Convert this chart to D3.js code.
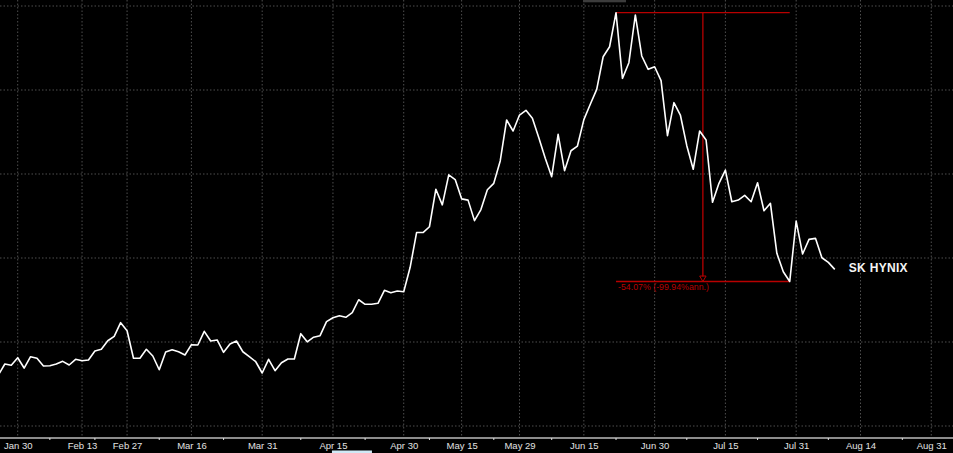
<!DOCTYPE html>
<html>
<head>
<meta charset="utf-8">
<script src="https://cdn.jsdelivr.net/npm/d3@7"></script>
<style>
  html, body { margin:0; padding:0; background:#000; overflow:hidden; }
  svg { display:block; }
</style>
</head>
<body>
<div id="chart"></div>
<script>
/* price series, one value per trading day, index 0 = Jan 30 */
var firstIndex = -3;
var prices = [
  160.7, 173.8, 172.3, 181.3, 169.0, 182.5, 180.6, 171.4, 171.8, 173.8,
  177.0, 172.6, 179.4, 177.7, 178.6, 189.3, 191.3, 201.5, 206.8, 223.0,
  213.4, 180.6, 180.6, 191.3, 183.3, 167.0, 188.1, 190.8, 188.4, 184.5,
  196.8, 196.4, 212.7, 201.2, 202.4, 187.7, 197.6, 201.2, 188.4, 182.5,
  176.5, 163.1, 179.4, 165.8, 175.3, 179.8, 179.8, 209.9, 200.2, 205.7,
  207.5, 224.2, 228.9, 231.3, 229.4, 234.9, 250.3, 244.9, 244.9, 246.1,
  261.5, 258.7, 260.7, 259.9, 288.9, 330.3, 330.3, 337.2, 381.9, 363.3,
  399.0, 393.4, 370.4, 368.9, 344.5, 357.7, 381.2, 388.9, 415.5, 464.3,
  451.2, 470.2, 475.8, 466.3, 443.2, 418.7, 396.8, 447.3, 403.9, 427.7,
  433.3, 464.7, 483.1, 500.8, 539.6, 551.5, 592.0, 513.9, 532.5, 589.3,
  540.5, 524.6, 527.7, 511.1, 445.6, 484.9, 470.2, 433.7, 405.6, 451.2,
  440.5, 366.3, 388.9, 404.7, 367.0, 369.0, 374.6, 367.0, 389.6, 356.3,
  365.1, 305.6, 283.7, 272.0, 344.0, 304.7, 322.2, 323.4, 300.3, 294.8,
  286.5
];

var tickLabels = ["Jan 30","Feb 13","Feb 27","Mar 16","Mar 31","Apr 15","Apr 30",
                  "May 15","May 29","Jun 15","Jun 30","Jul 15","Jul 31","Aug 14","Aug 31"];
var tickIndex  = [0, 10, 17, 27, 38, 49, 60, 69, 78, 88, 99, 110, 121, 131, 142];
var minorTickIndex = [5, 12, 22, 32, 44, 54, 64, 74, 83, 93, 104, 115, 126, 137.5];
var gridValues = [100, 200, 300, 400, 500, 600];

var seriesName = "SK HYNIX";
var peakIndex = 93, troughIndex = 120;
var drawdownLabel = "-54.07% (-99.94%ann.)";
var yearLabel = "2026", yearIndex = 78;
var cursorLabel = "04/15/26", cursorIndex = 49;

var width = 953, height = 453;
var axisY = 438;
var red = "#b80000";

var data = prices.map(function(v, i){
  return {i: firstIndex + i, v: v};
});

var x = d3.scaleLinear().domain([0, 131]).range([17.7, 860.5]);
var y = d3.scaleLinear().domain([100, 600]).range([426, 6]);

var svg = d3.select("#chart").append("svg")
  .attr("width", width).attr("height", height)
  .style("background", "#000");

svg.append("defs").append("clipPath").attr("id", "plotClip")
  .append("rect").attr("x", 0).attr("y", 0).attr("width", width).attr("height", axisY);

/* dotted grid */
svg.append("g").selectAll("line.h").data(gridValues).enter().append("line")
  .attr("x1", 0).attr("x2", width)
  .attr("y1", function(d){ return y(d); }).attr("y2", function(d){ return y(d); })
  .attr("stroke", "#4e4e4e").attr("stroke-width", 1).attr("stroke-dasharray", "1.5,2");

svg.append("g").selectAll("line.v").data(tickIndex).enter().append("line")
  .attr("x1", function(d){ return x(d); }).attr("x2", function(d){ return x(d); })
  .attr("y1", 0).attr("y2", axisY)
  .attr("stroke", "#4e4e4e").attr("stroke-width", 1).attr("stroke-dasharray", "1.5,2");

/* little grey tab at the top */
svg.append("rect").attr("x", 583).attr("y", 0).attr("width", 43).attr("height", 2.3)
  .attr("fill", "#3c3c3c");

/* bottom axis */
var xAxis = d3.axisBottom(x)
  .tickValues(tickIndex)
  .tickFormat(function(d, k){ return tickLabels[k]; })
  .tickSize(0).tickPadding(4);

var gx = svg.append("g").attr("transform", "translate(0," + axisY + ")").call(xAxis);
gx.select(".domain").remove();
gx.append("line").attr("x1", 0).attr("x2", width).attr("y1", 0).attr("y2", 0)
  .attr("stroke", "#8c8c8c").attr("stroke-width", 2);
gx.selectAll("text")
  .attr("fill", "#e2e2e2")
  .style("font-family", "'Liberation Sans', Arial, sans-serif")
  .style("font-size", "9.5px");

gx.selectAll("line.minor").data(minorTickIndex).enter().append("line")
  .attr("class", "minor")
  .attr("x1", function(d){ return x(d); }).attr("x2", function(d){ return x(d); })
  .attr("y1", 0).attr("y2", 2)
  .attr("stroke", "#dddddd").attr("stroke-width", 1);

/* cursor box and year, half hidden under the bottom edge like the original */
svg.append("rect").attr("x", x(cursorIndex) - 1).attr("y", 450.5)
  .attr("width", 40).attr("height", 8).attr("fill", "#cfe9f6");
svg.append("text").attr("x", x(cursorIndex) + 19).attr("y", 457.5)
  .attr("text-anchor", "middle").attr("fill", "#1a3550")
  .style("font-family", "'Liberation Sans', Arial, sans-serif").style("font-size", "8px")
  .text(cursorLabel);
svg.append("text").attr("x", x(yearIndex)).attr("y", 458.5)
  .attr("text-anchor", "middle").attr("fill", "#e2e2e2")
  .style("font-family", "'Liberation Sans', Arial, sans-serif").style("font-size", "9.5px")
  .text(yearLabel);

/* drawdown annotation */
var peak = data.filter(function(d){ return d.i === peakIndex; })[0];
var trough = data.filter(function(d){ return d.i === troughIndex; })[0];
var midIndex = (peakIndex + troughIndex) / 2;
var ann = svg.append("g").attr("stroke", red).attr("stroke-width", 1.3).attr("fill", "none");

ann.append("line").attr("x1", x(peakIndex)).attr("x2", x(troughIndex))
  .attr("y1", y(peak.v)).attr("y2", y(peak.v));
ann.append("line").attr("x1", x(peakIndex)).attr("x2", x(troughIndex))
  .attr("y1", y(trough.v)).attr("y2", y(trough.v));
ann.append("line").attr("x1", x(midIndex)).attr("x2", x(midIndex))
  .attr("y1", y(peak.v)).attr("y2", y(trough.v) - 5);
ann.append("path").attr("stroke-width", 1)
  .attr("d", "M" + (x(midIndex) - 3.2) + "," + (y(trough.v) - 5.5) +
             "L" + (x(midIndex) + 3.2) + "," + (y(trough.v) - 5.5) +
             "L" + x(midIndex) + "," + y(trough.v) + "Z");

svg.append("text")
  .attr("x", x(peakIndex) + 2).attr("y", y(trough.v) + 8.5)
  .attr("fill", red)
  .style("font-family", "'Liberation Sans', Arial, sans-serif")
  .style("font-size", "8.8px")
  .text(drawdownLabel);

/* price line */
var line = d3.line()
  .x(function(d){ return x(d.i); })
  .y(function(d){ return y(d.v); });

svg.append("path").datum(data)
  .attr("clip-path", "url(#plotClip)")
  .attr("d", line)
  .attr("fill", "none")
  .attr("stroke", "#ffffff")
  .attr("stroke-width", 1.6)
  .attr("stroke-linejoin", "round");

/* series label at end of line */
var last = data[data.length - 1];
svg.append("text")
  .attr("x", x(last.i) + 14).attr("y", y(last.v) + 2.5)
  .attr("fill", "#f4f4f4")
  .style("font-family", "'Liberation Sans', Arial, sans-serif")
  .style("font-size", "12px").style("font-weight", "bold")
  .style("letter-spacing", "0.3px")
  .text(seriesName);
</script>
</body>
</html>
